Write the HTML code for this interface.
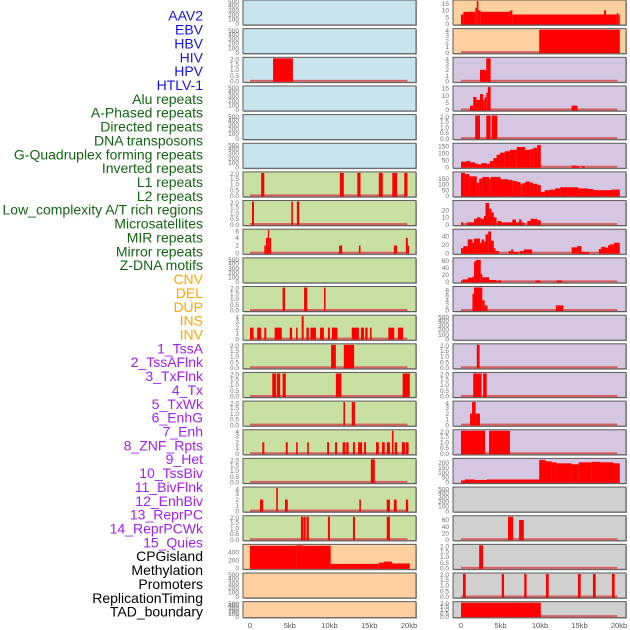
<!DOCTYPE html>
<html><head><meta charset="utf-8"><style>
html,body{margin:0;padding:0;background:#fff;}
svg{display:block;font-family:"Liberation Sans",sans-serif;}
</style></head><body>
<svg id="chart" width="630" height="630" viewBox="0 0 630 630" xmlns="http://www.w3.org/2000/svg"></svg>
<script>
const featureLabels = ["AAV2","EBV","HBV","HIV","HPV","HTLV-1","Alu repeats","A-Phased repeats","Directed repeats","DNA transposons","G-Quadruplex forming repeats","Inverted repeats","L1 repeats","L2 repeats","Low_complexity A/T rich regions","Microsatellites","MIR repeats","Mirror repeats","Z-DNA motifs","CNV","DEL","DUP","INS","INV","1_TssA","2_TssAFlnk","3_TxFlnk","4_Tx","5_TxWk","6_EnhG","7_Enh","8_ZNF_Rpts","9_Het","10_TssBiv","11_BivFlnk","12_EnhBiv","13_ReprPC","14_ReprPCWk","15_Quies","CPGisland","Methylation","Promoters","ReplicationTiming","TAD_boundary"];
const labelGroups = [0,0,0,0,0,0,1,1,1,1,1,1,1,1,1,1,1,1,1,2,2,2,2,2,3,3,3,3,3,3,3,3,3,3,3,3,3,3,3,4,4,4,4,4];
const groupColors = ["#1414e6","#146414","#ffa500","#a020f0","#000000"];
const xTicks = [0,5,10,15,20];
const xTickLabels = ["0","5kb","10kb","15kb","20kb"];

const leftBg = ["b","b","b","b","b","b","g","g","g","g","g","g","g","g","g","g","g","g","g","o","o","o"];
const rightBg = ["o","o","p","p","p","p","p","p","p","p","p","p","p","p","p","p","p","g2","g2","g2","g2","g2"];
const leftMax = [500,500,2,500,500,500,2,2,6,500,2,4,2,2,2,4,2,4,2,565,500,500];
const rightMax = [17,4,4,16,2,165,200,32,55,65,9,500,2,2,4,2,235,500,70,2,2,2];
const T500=[0,100,200,300,400,500], T2=[0,0.5,1.0,1.5,2.0], T4=[0,1,2,3,4];
const leftTicks = [T500,T500,T2,T500,T500,T500,T2,T2,[0,2,4,6],T500,T2,T4,T2,T2,T2,T4,T2,T4,T2,[0,200,400],T500,T500];
const rightTicks = [[0,5,10,15],T4,T4,[0,5,10,15],T2,[0,50,100,150],[0,50,100,150],[0,10,20],[0,20,40],[0,20,40,60],[0,2,4,6,8],T500,T2,T2,T4,T2,[0,50,100,150,200],T500,[0,20,40,60],T2,T2,T2];

const leftBars = [
 [],[],
 [[2.9,5.4,2]],
 [],[],[],
 [[1.4,1.8,2],[11.3,11.8,2],[13.5,13.9,2],[16.2,16.7,2],[17.9,18.5,2],[19.4,19.8,2]],
 [[0.25,0.5,2],[5.2,5.4,2],[5.9,6.2,2]],
 [[1.8,2.0,2],[2.0,2.25,4],[2.25,2.4,6],[2.4,2.65,4],[11.2,11.6,2],[13.7,13.9,2],[18.1,18.5,2],[19.6,19.85,4],[19.85,20.0,2]],
 [],
 [[4.1,4.4,2],[6.8,7.2,2],[9.3,9.5,2]],
 [[0,0.45,2],[0.9,1.4,2],[1.8,2.05,2],[3.1,4.0,2],[5.0,5.3,2],[5.8,6.0,2],[6.5,6.75,4],[7.1,7.4,2],[7.6,8.3,2],[8.8,9.3,2],[9.8,10.05,2],[10.3,11.0,2],[12.8,13.7,2],[13.95,14.35,2],[14.5,14.8,2],[15.1,15.3,2],[17.4,18.15,2],[18.6,19.25,2]],
 [[10.2,10.8,2],[11.8,13.1,2]],
 [[2.8,3.3,2],[3.4,3.8,2],[4.1,4.5,2],[10.8,11.5,2],[19.2,20.1,2]],
 [[11.75,11.95,2],[12.8,13.2,2]],
 [[1.55,1.8,2],[4.5,4.75,2],[5.8,6.0,2],[7.2,7.4,2],[9.7,9.95,2],[10.7,10.95,2],[11.65,12.0,2],[12.1,12.4,2],[12.95,13.2,2],[13.6,14.1,2],[14.35,14.6,2],[15.85,16.2,2],[16.6,16.95,2],[17.2,17.6,2],[17.85,18.05,4],[18.2,18.5,2],[19.1,19.5,2],[19.6,19.95,2]],
 [[15.2,15.7,2]],
 [[1.25,1.65,2],[3.3,3.5,4],[4.4,4.75,2],[13.75,13.95,2],[17.2,17.6,2],[18.1,18.45,2],[19.6,19.9,2]],
 [[6.4,6.7,2],[6.75,7.0,2],[7.1,7.4,2],[9.8,10.05,2],[12.95,13.2,2],[17.2,17.6,2]],
 [[0,5.8,555],[5.8,6.6,565],[6.6,10.15,555],[10.15,16.2,110],[16.2,16.85,140],[16.85,17.85,165],[17.85,20.1,120]],
 [],[]
];
const rightBars = [
 [[0,0.3,7],[0.3,1.8,9],[1.8,2.0,12],[2.0,2.2,17],[2.2,2.5,10],[2.5,6.2,9],[6.2,6.5,10],[6.5,18.1,7],[18.1,18.35,10],[18.35,19.7,7],[19.7,19.9,8],[19.9,20.1,7]],
 [[9.9,20.1,4]],
 [[2.4,3.2,2],[3.2,3.75,4]],
 [[1.15,1.55,3],[1.55,1.95,9],[1.95,2.4,7],[2.4,2.8,11],[2.8,3.0,7],[3.0,3.2,9],[3.2,3.4,12],[3.4,3.75,16],[14.0,14.75,3]],
 [[1.8,2.4,2],[3.2,3.75,2],[3.9,4.6,2]],
 [[0,0.7,40],[0.7,1.15,45],[1.15,1.8,35],[1.8,2.2,25],[2.2,2.6,20],[2.6,3.25,30],[3.25,3.65,25],[3.65,4.1,45],[4.1,4.5,65],[4.5,4.95,90],[4.95,5.55,105],[5.55,6.2,115],[6.2,7.05,125],[7.05,8.1,145],[8.1,8.75,125],[8.75,9.15,130],[9.15,9.65,140],[9.65,10.1,160],[14.0,14.6,12],[14.6,15.0,8],[15.3,15.65,8]],
 [[0,0.5,200],[0.5,1.05,190],[1.05,2.0,170],[2.0,2.3,115],[2.3,2.7,150],[2.7,3.55,165],[3.55,3.75,150],[3.75,5.0,165],[5.0,5.95,145],[5.95,6.5,140],[6.5,7.1,130],[7.1,7.55,120],[7.55,7.75,100],[7.75,8.15,110],[8.15,8.75,125],[8.75,9.15,115],[9.15,9.65,105],[9.65,10.1,95],[10.1,10.6,35],[10.6,11.3,50],[11.3,11.9,55],[11.9,12.55,65],[12.55,14.85,75],[14.85,16.1,65],[16.1,16.75,60],[16.75,19.05,50],[19.05,20.1,55]],
 [[0,0.3,3],[0.75,1.65,3],[1.65,2.0,8],[2.0,2.5,10],[2.5,2.9,8],[2.9,3.1,12],[3.1,3.55,30],[3.55,3.85,22],[3.85,4.15,17],[4.15,4.5,10],[4.6,5.1,5],[5.1,6.5,3],[6.5,6.95,7],[6.95,7.35,3],[7.35,7.65,7],[7.65,8.0,3],[8.4,8.8,5],[8.8,9.65,8],[9.65,10.1,6]],
 [[0,0.3,12],[0.3,0.85,17],[0.85,1.45,33],[1.45,1.65,25],[1.65,2.4,35],[2.4,2.6,25],[2.6,2.9,33],[2.9,3.1,28],[3.1,3.45,45],[3.45,3.8,52],[3.8,4.15,30],[4.15,4.35,12],[4.35,4.8,5],[6.05,6.35,5],[6.35,6.6,9],[6.6,7.3,3],[7.45,7.95,5],[7.95,9.0,9],[14.0,14.7,14],[14.7,15.25,17],[15.25,16.2,3],[17.45,17.75,10],[17.75,18.3,15],[18.3,18.6,13],[18.6,18.85,19],[18.85,19.35,21],[19.35,20.1,25]],
 [[0,0.2,3],[0.2,0.85,7],[0.85,1.45,12],[1.45,1.65,15],[1.65,1.9,58],[1.9,2.5,62],[2.5,2.7,22],[2.7,3.55,13],[3.55,4.5,5],[4.6,5.1,4],[9.4,10.05,4],[12.1,12.8,4]],
 [[1.45,1.65,6.5],[1.65,2.7,9],[2.7,3.0,4],[3.0,3.35,2],[12.0,12.95,2]],
 [],
 [[2.0,2.35,2]],
 [[1.55,2.6,2],[2.8,3.25,2]],
 [[1.15,1.4,2],[1.4,1.85,4],[1.85,2.4,2]],
 [[0,3.05,2],[3.55,6.2,2]],
 [[0,0.5,20],[0.5,1.75,30],[1.75,3.25,25],[3.25,9.9,30],[9.9,10.7,230],[10.7,11.5,215],[11.5,12.1,205],[12.1,14.0,195],[14.0,14.9,185],[14.9,16.55,205],[16.55,17.6,210],[17.6,19.3,205],[19.3,20.1,195]],
 [],
 [[5.95,6.6,70],[7.35,7.95,60]],
 [[2.3,2.8,2]],
 [[0.25,0.6,2],[5.15,5.45,2],[8.0,8.3,2],[10.75,11.1,2],[14.8,15.15,2],[16.7,17.05,2],[19.1,19.45,2]],
 [[0,10.1,2]]
];

const bgColors = {b:"#c8e4ec", g:"#c8e1a2", o:"#fed0a0", p:"#d5c6e2", g2:"#d0d0d0"};
const svg = document.getElementById('chart');
const NS = "http://www.w3.org/2000/svg";
function mk(tag, attrs, parent){const e=document.createElementNS(NS,tag);for(const k in attrs)e.setAttribute(k,attrs[k]);(parent||svg).appendChild(e);return e;}

featureLabels.forEach((lab,i)=>{
  const t = mk('text',{x:203,y:17+i*13.86,'text-anchor':'end','dominant-baseline':'middle','font-size':14,fill:groupColors[labelGroups[i]]});
  t.textContent = lab;
  
  
});

function rowTop(i){return i*28.65;}
function rowH(i){return i===21?16:25;}

function drawColumn(side, bgs, maxes, ticks, bars){
  const x0 = side==='left'?243:453, x1 = side==='left'?416:626;
  const kx0 = side==='left'?250:461, kpx = side==='left'?7.95:7.9;
  const xs = kb=>kx0+kb*kpx;
  for(let i=0;i<22;i++){
    const top=rowTop(i), h=rowH(i), bottom=top+h-1;
    const ys = v=>bottom-(v/maxes[i])*(h-2);
    const g = mk('g',{});
    
    
    mk('rect',{x:x0+1,y:top+1,width:x1-x0,height:h,fill:'#aaa'},g);
    const bg = mk('rect',{x:x0,y:top,width:x1-x0,height:h,fill:bgColors[bgs[i]],stroke:'#5a5a5a','stroke-width':1},g);
    
    
    if(bars[i].length){
      const bl = mk('rect',{x:xs(0),y:bottom-1.5,width:xs(19.8)-xs(0),height:2,fill:'#d46060'},g);
      
      
    }
    bars[i].forEach(b=>{
      const yv = Math.max(top+1, ys(b[2]));
      const r = mk('rect',{x:xs(b[0]),y:yv,width:Math.max(1,xs(b[1])-xs(b[0])),height:bottom-yv+0.5,fill:'#ff0000'},g);
      
      
    });
    const tx = x0-4;
    ticks[i].forEach(v=>{
      const t = mk('text',{x:tx,y:Math.max(top+2,ys(v))+2.2,'text-anchor':'end','font-size':6.5,fill:'#6e6e6e'},g);
      t.textContent = (ticks[i]===T2)? v.toFixed(1) : String(v);
      
      
    });
  }
  xTicks.forEach((v,j)=>{
    const t = mk('text',{x:xs(v),y:628,'text-anchor':'middle','font-size':7.5,fill:'#555'});
    t.textContent = xTickLabels[j];
    
    
  });
}
drawColumn('left', leftBg, leftMax, leftTicks, leftBars);
drawColumn('right', rightBg, rightMax, rightTicks, rightBars);
</script>
</body></html>
